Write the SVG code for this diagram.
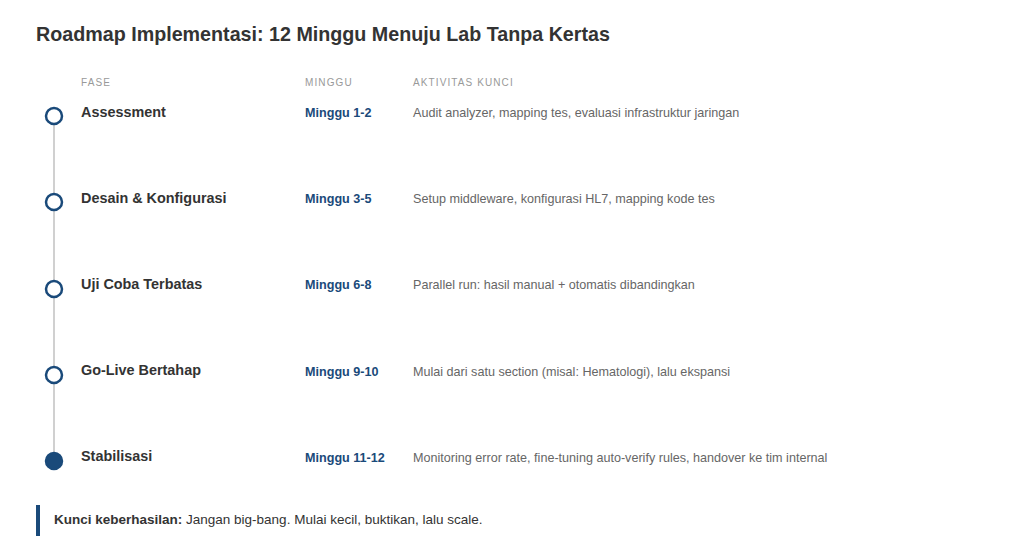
<svg xmlns="http://www.w3.org/2000/svg" width="1024" height="557" viewBox="0 0 1024 557">
<style>
text{font-family:"Liberation Sans",Arial,sans-serif}
.title{font-size:19.7px;font-weight:bold;fill:#333}
.hdr{font-size:10px;fill:#999;letter-spacing:1.1px}
.phase{font-size:14.4px;font-weight:bold;fill:#333}
.week{font-size:12.6px;font-weight:bold;fill:#1a4a7a}
.act{font-size:12.6px;fill:#666}
.dot{fill:#fff;stroke:#1a4a7a;stroke-width:2.5}
.dotf{fill:#1a4a7a;stroke:#1a4a7a;stroke-width:2.5}
</style>
<rect width="1024" height="557" fill="#fff"/>
<text class="title" x="36" y="41">Roadmap Implementasi: 12 Minggu Menuju Lab Tanpa Kertas</text>
<g id="headers">
<text class="hdr" x="81" y="86">FASE</text>
<text class="hdr" x="305" y="86">MINGGU</text>
<text class="hdr" x="413" y="86">AKTIVITAS KUNCI</text>
</g>
<g id="connectors">
<line x1="54" y1="116" x2="54" y2="461" stroke="#d0d0d0" stroke-width="2"/>
</g>
<g id="phase1">
<circle class="dot" cx="54" cy="116" r="8"/>
<text class="phase" x="81" y="117">Assessment</text>
<text class="week" x="305" y="117">Minggu 1-2</text>
<text class="act" x="413" y="117">Audit analyzer, mapping tes, evaluasi infrastruktur jaringan</text>
</g>
<g id="phase2">
<circle class="dot" cx="54" cy="202" r="8"/>
<text class="phase" x="81" y="203">Desain &amp; Konfigurasi</text>
<text class="week" x="305" y="203">Minggu 3-5</text>
<text class="act" x="413" y="203">Setup middleware, konfigurasi HL7, mapping kode tes</text>
</g>
<g id="phase3">
<circle class="dot" cx="54" cy="289" r="8"/>
<text class="phase" x="81" y="289">Uji Coba Terbatas</text>
<text class="week" x="305" y="289">Minggu 6-8</text>
<text class="act" x="413" y="289">Parallel run: hasil manual + otomatis dibandingkan</text>
</g>
<g id="phase4">
<circle class="dot" cx="54" cy="375" r="8"/>
<text class="phase" x="81" y="375">Go-Live Bertahap</text>
<text class="week" x="305" y="376">Minggu 9-10</text>
<text class="act" x="413" y="376">Mulai dari satu section (misal: Hematologi), lalu ekspansi</text>
</g>
<g id="phase5">
<circle class="dotf" cx="54" cy="461" r="8"/>
<text class="phase" x="81" y="461">Stabilisasi</text>
<text class="week" x="305" y="462">Minggu 11-12</text>
<text class="act" x="413" y="462">Monitoring error rate, fine-tuning auto-verify rules, handover ke tim internal</text>
</g>
<g id="callout">
<rect x="36" y="505" width="4" height="31" fill="#1a4a7a"/>
<text x="54" y="524" font-size="13.5" fill="#333"><tspan font-weight="bold">Kunci keberhasilan:</tspan> Jangan big-bang. Mulai kecil, buktikan, lalu scale.</text>
</g>
</svg>
